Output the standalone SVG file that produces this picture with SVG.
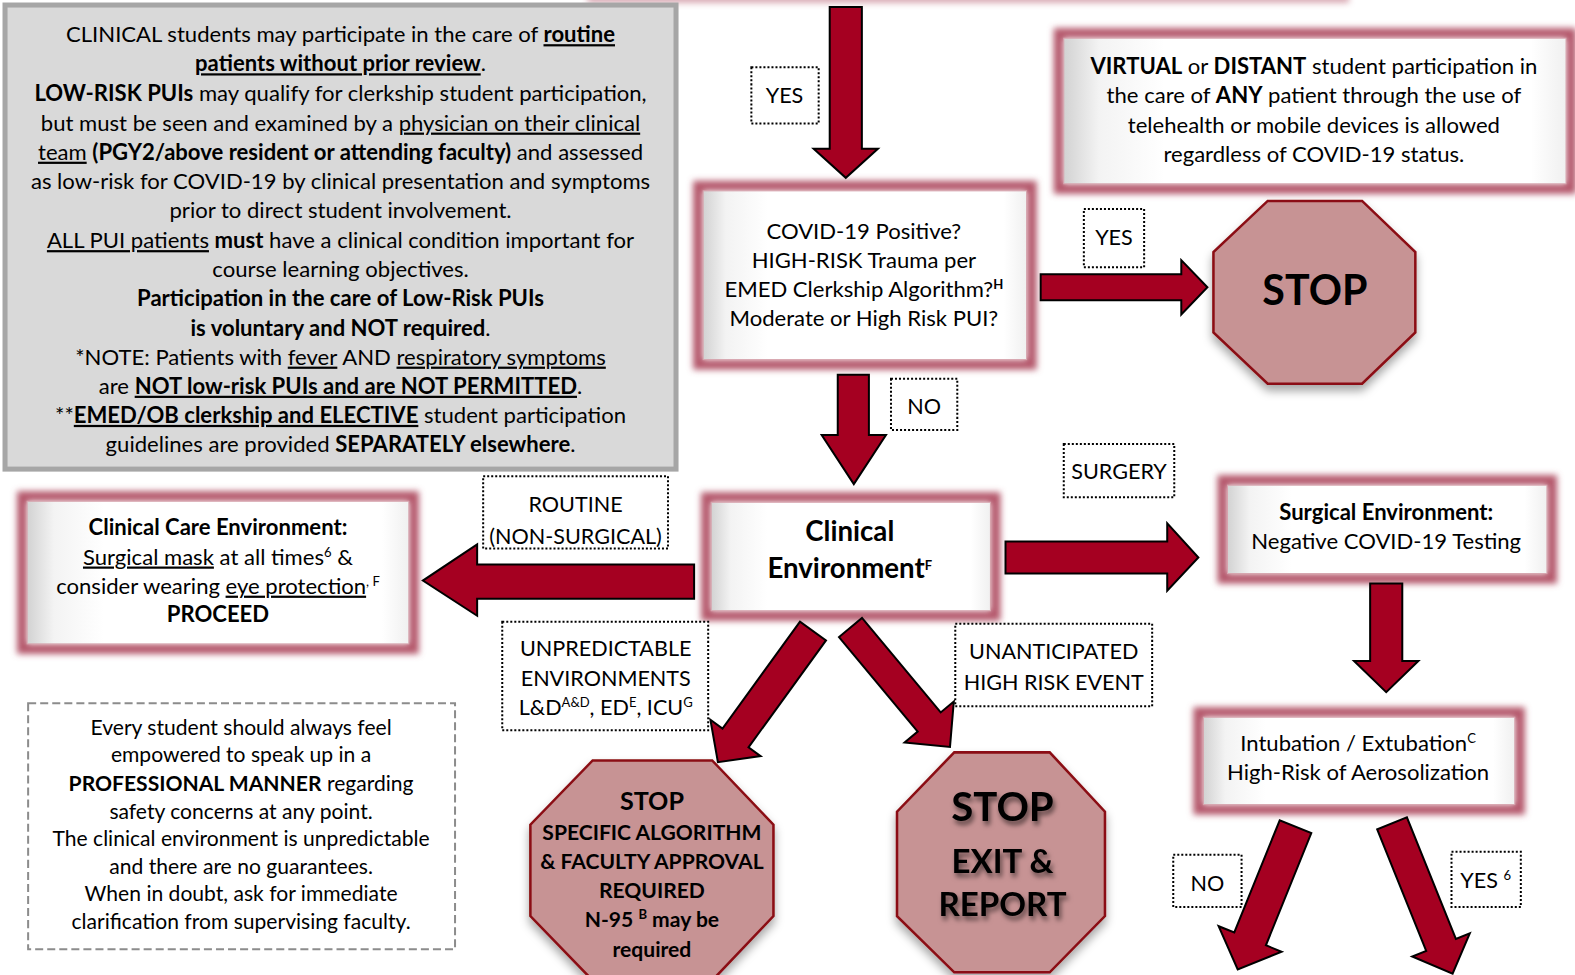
<svg xmlns="http://www.w3.org/2000/svg" width="1575" height="975" viewBox="0 0 1575 975">
<defs>
<style>
.t{font-family:Lato,"Open Sans","Liberation Sans",sans-serif;font-size:22px;fill:#000;text-anchor:middle}
.n{font-size:21px}
.l{font-size:21.5px}
.b{font-weight:bold}
.u{text-decoration:underline}
.sup{font-size:13px}
.arrow{fill:#a50021;stroke:#000;stroke-width:2;stroke-linejoin:miter}
.lbl{fill:#fff;stroke:#000;stroke-width:2;stroke-dasharray:2 2}
.glow{fill:none;stroke:#b4566a;stroke-width:10;filter:url(#blur)}
.face{fill:url(#bevel);stroke:#d6a3ad;stroke-width:1}
.oct{fill:#c79394;stroke:#8b0d12;stroke-width:2.5;filter:url(#drop)}
</style>
<filter id="blur" x="-10%" y="-20%" width="120%" height="140%"><feGaussianBlur stdDeviation="3"/></filter>
<filter id="drop" x="-20%" y="-20%" width="140%" height="140%"><feDropShadow dx="0" dy="6" stdDeviation="5" flood-color="#000" flood-opacity="0.35"/></filter>
<filter id="tshadow" x="-20%" y="-30%" width="140%" height="160%"><feDropShadow dx="2" dy="4" stdDeviation="2.5" flood-color="#000" flood-opacity="0.55"/></filter>
<linearGradient id="bevel" x1="0" y1="0" x2="1" y2="0">
<stop offset="0" stop-color="#d2d2d2"/><stop offset="0.07" stop-color="#f3f3f3"/><stop offset="0.2" stop-color="#ffffff"/><stop offset="0.93" stop-color="#ffffff"/><stop offset="1" stop-color="#f0f0f0"/>
</linearGradient>
</defs>
<rect width="1575" height="975" fill="#fff"/>
<g transform="scale(1.0045)">

<g id="top-box-edge" opacity="0.5"><rect class="glow" x="590" y="-62" width="748" height="60"/></g>

<g id="info-box">
<rect x="5" y="5" width="668" height="462" fill="#d9d9d9" stroke="#a6a6a6" stroke-width="5"/>
<text class="t" x="339" y="42">CLINICAL students may participate in the care of <tspan class="b u">routine</tspan></text>
<text class="t" x="339" y="71"><tspan class="b u">patients without prior review</tspan>.</text>
<text class="t" x="339" y="101"><tspan class="b">LOW-RISK PUIs</tspan> may qualify for clerkship student participation,</text>
<text class="t" x="339" y="130">but must be seen and examined by a <tspan class="u">physician on their clinical</tspan></text>
<text class="t" x="339" y="159"><tspan class="u">team</tspan> <tspan class="b">(PGY2/above resident or attending faculty)</tspan> and assessed</text>
<text class="t" x="339" y="188">as low-risk for COVID-19 by clinical presentation and symptoms</text>
<text class="t" x="339" y="217">prior to direct student involvement.</text>
<text class="t" x="339" y="247"><tspan class="u">ALL PUI patients</tspan> <tspan class="b">must</tspan> have a clinical condition important for</text>
<text class="t" x="339" y="276">course learning objectives.</text>
<text class="t b" x="339" y="305">Participation in the care of Low-Risk PUIs</text>
<text class="t" x="339" y="334"><tspan class="b">is voluntary and NOT required</tspan>.</text>
<text class="t" x="339" y="363">*NOTE: Patients with <tspan class="u">fever</tspan> AND <tspan class="u">respiratory symptoms</tspan></text>
<text class="t" x="339" y="392">are <tspan class="b u">NOT low-risk PUIs and are NOT PERMITTED</tspan>.</text>
<text class="t" x="339" y="421">**<tspan class="b u">EMED/OB clerkship and ELECTIVE</tspan> student participation</text>
<text class="t" x="339" y="450">guidelines are provided <tspan class="b">SEPARATELY elsewhere</tspan>.</text>
</g>

<g id="virtual-box">
<rect class="glow" x="1054" y="33" width="510" height="155"/>
<rect class="face" x="1059" y="38" width="500" height="145"/>
<text class="t" x="1308" y="74"><tspan class="b">VIRTUAL</tspan> or <tspan class="b">DISTANT</tspan> student participation in</text>
<text class="t" x="1308" y="103">the care of <tspan class="b">ANY</tspan> patient through the use of</text>
<text class="t" x="1308" y="132">telehealth or mobile devices is allowed</text>
<text class="t" x="1308" y="161">regardless of COVID-19 status.</text>
</g>

<g id="covid-box">
<rect class="glow" x="695" y="185" width="332" height="178"/>
<rect class="face" x="700" y="190" width="322" height="168"/>
<text class="t" x="860" y="238">COVID-19 Positive?</text>
<text class="t" x="860" y="267">HIGH-RISK Trauma per</text>
<text class="t" x="860" y="296">EMED Clerkship Algorithm?<tspan class="sup b" baseline-shift="super">H</tspan></text>
<text class="t" x="860" y="325">Moderate or High Risk PUI?</text>
</g>

<g id="stop-1">
<polygon class="oct" points="1262,200 1356,200 1409,251 1409,331 1356,382 1262,382 1208,331 1208,251"/>
<text class="t b" x="1309" y="304" style="font-size:41px">STOP</text>
</g>

<g id="clinical-box">
<rect class="glow" x="703" y="495" width="288" height="118"/>
<rect class="face" x="708" y="500" width="278" height="108"/>
<text class="t b" x="846" y="539" style="font-size:27.5px">Clinical</text>
<text class="t b" x="846" y="575" style="font-size:27.5px">Environment<tspan class="sup" baseline-shift="super">F</tspan></text>
</g>

<g id="surgical-box">
<rect class="glow" x="1217" y="478" width="328" height="98"/>
<rect class="face" x="1222" y="483" width="318" height="88"/>
<text class="t b" x="1380" y="518">Surgical Environment:</text>
<text class="t" x="1380" y="547">Negative COVID-19 Testing</text>
</g>

<g id="intubation-box">
<rect class="glow" x="1193" y="709" width="320" height="97"/>
<rect class="face" x="1198" y="714" width="310" height="87"/>
<text class="t" x="1352" y="748">Intubation / Extubation<tspan class="sup" baseline-shift="super">C</tspan></text>
<text class="t" x="1352" y="777">High-Risk of Aerosolization</text>
</g>

<g id="clinical-care-box">
<rect class="glow" x="22" y="494" width="390" height="152"/>
<rect class="face" x="27" y="499" width="380" height="142"/>
<text class="t b" x="217" y="533">Clinical Care Environment:</text>
<text class="t" x="217" y="562"><tspan class="u">Surgical mask</tspan> at all times<tspan class="sup" baseline-shift="super">6</tspan> &amp;</text>
<text class="t" x="217" y="591">consider wearing <tspan class="u">eye protection</tspan><tspan class="sup" baseline-shift="super">, F</tspan></text>
<text class="t b" x="217" y="619">PROCEED</text>
</g>

<g id="stop-specific">
<polygon class="oct" points="590,757 709,757 770,821 770,912 709,976 590,976 528,912 528,821"/>
<text class="t b" x="649" y="806" style="font-size:25px">STOP</text>
<text class="t b" x="649" y="836" style="font-size:21px">SPECIFIC ALGORITHM</text>
<text class="t b" x="649" y="865" style="font-size:21px">&amp; FACULTY APPROVAL</text>
<text class="t b" x="649" y="894" style="font-size:21px">REQUIRED</text>
<text class="t b" x="649" y="923" style="font-size:21px">N-95 <tspan class="sup" baseline-shift="super">B</tspan> may be</text>
<text class="t b" x="649" y="953" style="font-size:21px">required</text>
</g>

<g id="stop-exit">
<polygon class="oct" points="950,749 1045,749 1100,808 1100,912 1045,968 950,968 893,912 893,808"/>
<g filter="url(#tshadow)">
<text class="t b" x="998" y="817" style="font-size:40px">STOP</text>
<text class="t b" x="998" y="869" style="font-size:33px">EXIT &amp;</text>
<text class="t b" x="998" y="912" style="font-size:33px">REPORT</text>
</g>
</g>

<g id="note-box">
<rect x="28" y="700" width="425" height="245" fill="#fff" stroke="#8c8c8c" stroke-width="2" stroke-dasharray="8 4"/>
<text class="t n" x="240" y="732">Every student should always feel</text>
<text class="t n" x="240" y="759">empowered to speak up in a</text>
<text class="t n" x="240" y="787"><tspan class="b">PROFESSIONAL MANNER</tspan> regarding</text>
<text class="t n" x="240" y="815">safety concerns at any point.</text>
<text class="t n" x="240" y="842">The clinical environment is unpredictable</text>
<text class="t n" x="240" y="870">and there are no guarantees.</text>
<text class="t n" x="240" y="897">When in doubt, ask for immediate</text>
<text class="t n" x="240" y="925">clarification from supervising faculty.</text>
</g>

<g id="connectors">
<polygon class="arrow" points="826,7 858,7 858,148 874,148 842,177 810,148 826,148"/>
<polygon class="arrow" points="834,373 865,373 865,433 882,433 850,482 818,433 834,433"/>
<polygon class="arrow" points="1036,273 1176,273 1176,259 1202,286 1176,313 1176,299 1036,299"/>
<polygon class="arrow" points="1001,539 1162,539 1162,521 1193,555 1162,588 1162,571 1001,571"/>
<polygon class="arrow" points="691,562 475,562 475,542 421,578 475,613 475,596 691,596"/>
<polygon class="arrow" points="1364,581 1396,581 1396,658 1412,658 1380,689 1348,658 1364,658"/>
<g transform="scale(0.99552)">
<polygon class="arrow" points="800,621.6 722.5,728.5 710.4,719.7 717.9,762.2 760.6,756.1 748.5,747.3 826,640.4"/>
<polygon class="arrow" points="839,637.1 917.7,731.6 904.6,742.5 950,746.9 953.8,701.5 940.7,712.4 862,617.9"/>
<polygon class="arrow" points="1279.7,820.3 1234.3,932.5 1218.6,926.2 1237.7,969.5 1281.6,951.7 1265.9,945.3 1311.3,833.1"/>
<polygon class="arrow" points="1377.2,829.3 1426.2,950.9 1412.2,956.5 1452.6,973.6 1469.8,933.3 1455.9,938.9 1406.9,817.3"/>
</g>
</g>

<g id="labels">
<g id="lbl-yes1"><rect class="lbl" x="748" y="67" width="67" height="56"/><text class="t l" x="781" y="103">YES</text></g>
<g id="lbl-yes2"><rect class="lbl" x="1079" y="208" width="60" height="58"/><text class="t l" x="1109" y="244">YES</text></g>
<g id="lbl-no1"><rect class="lbl" x="887" y="377" width="66" height="51"/><text class="t l" x="920" y="412">NO</text></g>
<g id="lbl-surgery"><rect class="lbl" x="1059" y="442" width="110" height="53"/><text class="t l" x="1114" y="477">SURGERY</text></g>
<g id="lbl-routine"><rect class="lbl" x="481" y="474" width="184" height="72"/><text class="t l" x="573" y="510">ROUTINE</text><text class="t l" x="573" y="542">(NON-SURGICAL)</text></g>
<g id="lbl-unpred"><rect class="lbl" x="500" y="619" width="205" height="108"/><text class="t l" x="603" y="653">UNPREDICTABLE</text><text class="t l" x="603" y="683">ENVIRONMENTS</text><text class="t l" x="603" y="712">L&amp;D<tspan class="sup" baseline-shift="super">A&amp;D</tspan>, ED<tspan class="sup" baseline-shift="super">E</tspan>, ICU<tspan class="sup" baseline-shift="super">G</tspan></text></g>
<g id="lbl-unanticipated"><rect class="lbl" x="951" y="621" width="196" height="82"/><text class="t l" x="1049" y="656">UNANTICIPATED</text><text class="t l" x="1049" y="687">HIGH RISK EVENT</text></g>
<g id="lbl-no2"><rect class="lbl" x="1168" y="851" width="68" height="52"/><text class="t l" x="1202" y="887">NO</text></g>
<g id="lbl-yes3"><rect class="lbl" x="1445" y="848" width="69" height="55"/><text class="t l" x="1479" y="884">YES <tspan class="sup" baseline-shift="super">6</tspan></text></g>
</g>
</g>
</svg>
